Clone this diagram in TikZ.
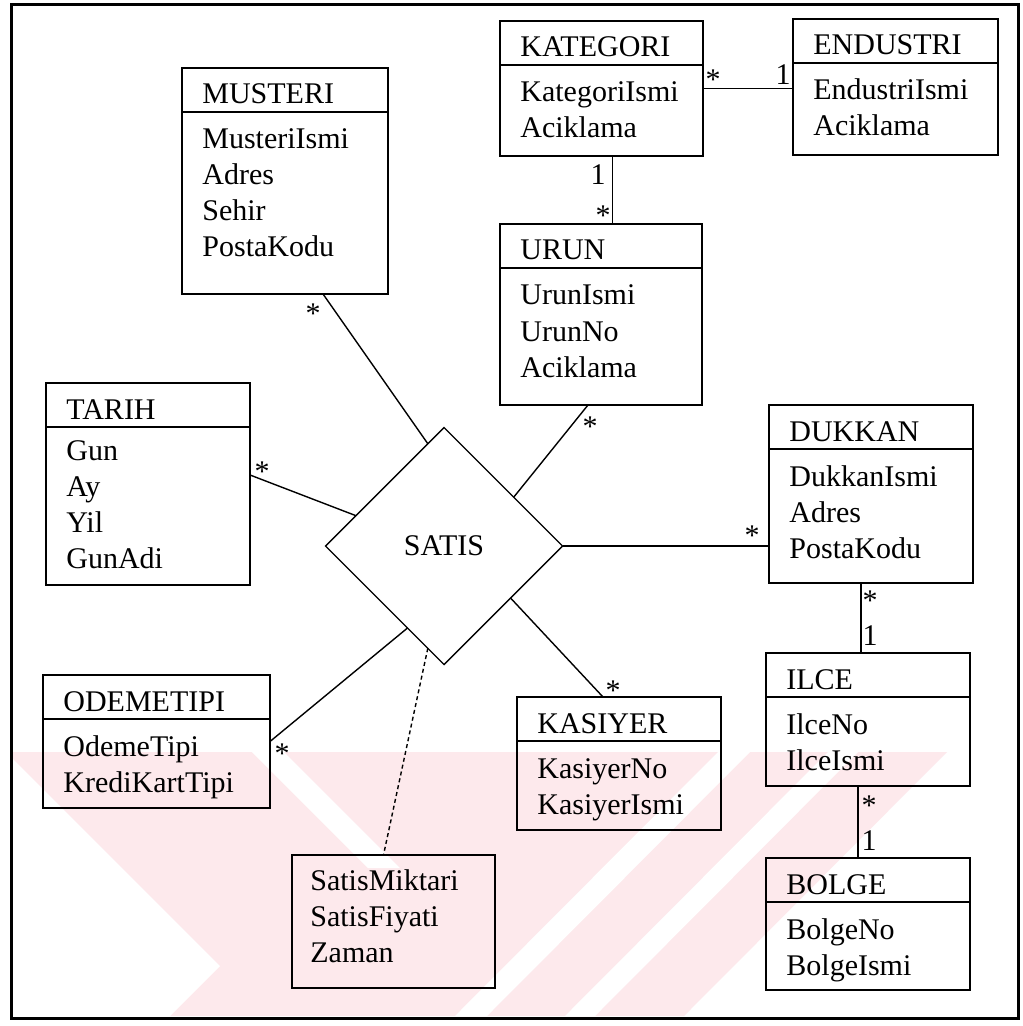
\documentclass[tikz,border=0pt]{standalone}
\usepackage{fontspec}
\setmainfont{Liberation Serif}
\usetikzlibrary{shapes.geometric,fit}
\definecolor{wmpink}{RGB}{253,233,236}

\begin{document}
\begin{tikzpicture}[x=0.5pt,y=-0.5pt,
  every node/.style={font=\fontsize{15}{18}\selectfont},
  ent/.style={draw,line width=0.9pt,inner sep=0pt,outer sep=0pt},
  hdr/.style={line width=0.9pt},
  ttl/.style={anchor=base west,inner sep=0pt},
  att/.style={anchor=base west,align=left,inner sep=0pt},
  lnk/.style={line width=0.7pt},
  mult/.style={anchor=base,inner sep=0pt}]
  \useasboundingbox (0,0) rectangle (1022,1026);
  \fill[white] (0,0) rectangle (1022,1026);

  % faint watermark
  \begin{scope}
    \clip (13,752) rectangle (1016,1016);
    \fill[wmpink] (-300,752) -- (947,752) -- (684,1016) -- (-300,1016) -- cycle;
    \fill[white] (0,746) -- (220,966) -- (169,1017) -- (0,1017) -- cycle;
    \fill[white] (252,752) -- (284,752) -- (400,868) -- (368,868) -- cycle;
    \fill[white] (718,752) -- (750,752) -- (487,1016) -- (455,1016) -- cycle;
    \fill[white] (828,752) -- (858,752) -- (595,1016) -- (565,1016) -- cycle;
  \end{scope}
  \draw[line width=1.5pt] (11,5) rectangle (1018,1018);

  % entities (attribute lists are placed by the baseline of their last line)
  \node[ent,fit={(182,68) (388,294)}] (musteri) {};
  \draw[hdr] ([yshift=-22pt]musteri.north west) -- ([yshift=-22pt]musteri.north east);
  \node[ttl] (musteri-t) at ([xshift=10pt,yshift=-18pt]musteri.north west) {MUSTERI};
  \node[att] (musteri-a) at ([xshift=10pt,yshift=-94.5pt]musteri.north west) {MusteriIsmi\\Adres\\Sehir\\PostaKodu};

  \node[ent,fit={(500,21) (703,156)}] (kategori) {};
  \draw[hdr] ([yshift=-22pt]kategori.north west) -- ([yshift=-22pt]kategori.north east);
  \node[ttl] (kategori-t) at ([xshift=10pt,yshift=-18pt]kategori.north west) {KATEGORI};
  \node[att] (kategori-a) at ([xshift=10pt,yshift=-58.5pt]kategori.north west) {KategoriIsmi\\Aciklama};

  \node[ent,fit={(793,19) (998,155)}] (endustri) {};
  \draw[hdr] ([yshift=-22pt]endustri.north west) -- ([yshift=-22pt]endustri.north east);
  \node[ttl] (endustri-t) at ([xshift=10pt,yshift=-18pt]endustri.north west) {ENDUSTRI};
  \node[att] (endustri-a) at ([xshift=10pt,yshift=-58.5pt]endustri.north west) {EndustriIsmi\\Aciklama};

  \node[ent,fit={(500,224) (702,405)}] (urun) {};
  \draw[hdr] ([yshift=-22pt]urun.north west) -- ([yshift=-22pt]urun.north east);
  \node[ttl] (urun-t) at ([xshift=10pt,yshift=-18pt]urun.north west) {URUN};
  \node[att] (urun-a) at ([xshift=10pt,yshift=-76.5pt]urun.north west) {UrunIsmi\\UrunNo\\Aciklama};

  \node[ent,fit={(46,383) (250,585)}] (tarih) {};
  \draw[hdr] ([yshift=-22pt]tarih.north west) -- ([yshift=-22pt]tarih.north east);
  \node[ttl] (tarih-t) at ([xshift=10pt,yshift=-18pt]tarih.north west) {TARIH};
  \node[att] (tarih-a) at ([xshift=10pt,yshift=-92.5pt]tarih.north west) {Gun\\Ay\\Yil\\GunAdi};

  \node[ent,fit={(769,405) (973,583)}] (dukkan) {};
  \draw[hdr] ([yshift=-22pt]dukkan.north west) -- ([yshift=-22pt]dukkan.north east);
  \node[ttl] (dukkan-t) at ([xshift=10pt,yshift=-18pt]dukkan.north west) {DUKKAN};
  \node[att] (dukkan-a) at ([xshift=10pt,yshift=-76.5pt]dukkan.north west) {DukkanIsmi\\Adres\\PostaKodu};

  \node[ent,fit={(766,653) (970,786)}] (ilce) {};
  \draw[hdr] ([yshift=-22pt]ilce.north west) -- ([yshift=-22pt]ilce.north east);
  \node[ttl] (ilce-t) at ([xshift=10pt,yshift=-18pt]ilce.north west) {ILCE};
  \node[att] (ilce-a) at ([xshift=10pt,yshift=-58.5pt]ilce.north west) {IlceNo\\IlceIsmi};

  \node[ent,fit={(766,858) (970,990)}] (bolge) {};
  \draw[hdr] ([yshift=-22pt]bolge.north west) -- ([yshift=-22pt]bolge.north east);
  \node[ttl] (bolge-t) at ([xshift=10pt,yshift=-18pt]bolge.north west) {BOLGE};
  \node[att] (bolge-a) at ([xshift=10pt,yshift=-58.5pt]bolge.north west) {BolgeNo\\BolgeIsmi};

  \node[ent,fit={(517,697) (721,830)}] (kasiyer) {};
  \draw[hdr] ([yshift=-22pt]kasiyer.north west) -- ([yshift=-22pt]kasiyer.north east);
  \node[ttl] (kasiyer-t) at ([xshift=10pt,yshift=-18pt]kasiyer.north west) {KASIYER};
  \node[att] (kasiyer-a) at ([xshift=10pt,yshift=-58.5pt]kasiyer.north west) {KasiyerNo\\KasiyerIsmi};

  \node[ent,fit={(43,675) (270,808)}] (odemetipi) {};
  \draw[hdr] ([yshift=-22pt]odemetipi.north west) -- ([yshift=-22pt]odemetipi.north east);
  \node[ttl] (odemetipi-t) at ([xshift=10pt,yshift=-18pt]odemetipi.north west) {ODEMETIPI};
  \node[att] (odemetipi-a) at ([xshift=10pt,yshift=-58.5pt]odemetipi.north west) {OdemeTipi\\KrediKartTipi};

  % link attributes of the sale
  \node[ent,fit={(292,855) (495,988)}] (satisattr) {};
  \node[att] (satisattr-a) at ([xshift=9pt,yshift=-53.5pt]satisattr.north west) {SatisMiktari\\SatisFiyati\\Zaman};

  % relationship
  \node[diamond,draw,line width=0.7pt,minimum size=118.5pt,inner sep=0pt,outer sep=0pt] (satis) at (444,546) {SATIS};

  % connectors
  \draw[lnk] (kategori.east) -- (kategori.east -| endustri.west);
  \draw[lnk] ([xshift=5.5pt]kategori.south) -- ([xshift=5.5pt]kategori.south |- urun.north);
  \draw[lnk] ([xshift=-5pt]dukkan.south) -- ([xshift=-5pt]dukkan.south |- ilce.north);
  \draw[lnk] ([xshift=-5pt]ilce.south) -- ([xshift=-5pt]ilce.south |- bolge.north);
  \draw[lnk] ([xshift=19pt]musteri.south) -- (satis.99);
  \draw[lnk] ([yshift=4.5pt]tarih.east) -- (satis.161);
  \draw[lnk] ([xshift=-6.5pt]urun.south) -- (satis.35);
  \draw[lnk] (satis.east) -- (satis.east -| dukkan.west);
  \draw[lnk] (satis.322) -- ([xshift=-8pt]kasiyer.north);
  \draw[lnk] (satis.246) -- (odemetipi.east);
  \draw[lnk,dash pattern=on 2pt off 1.5pt] (satis.261) -- ([xshift=-5pt]satisattr.north);

  % multiplicities
  \node[mult] (m1) at (713,90) {*};
  \node[mult] (m2) at (783,85) {1};
  \node[mult] (m3) at (598,185) {1};
  \node[mult] (m4) at (603,226) {*};
  \node[mult] (m5) at (313,323) {*};
  \node[mult] (m6) at (262,481) {*};
  \node[mult] (m7) at (590,436) {*};
  \node[mult] (m8) at (752,545) {*};
  \node[mult] (m9) at (870,610) {*};
  \node[mult] (m10) at (870,645) {1};
  \node[mult] (m11) at (869,815) {*};
  \node[mult] (m12) at (869,850) {1};
  \node[mult] (m13) at (613,700) {*};
  \node[mult] (m14) at (282,763) {*};
\end{tikzpicture}
\end{document}
